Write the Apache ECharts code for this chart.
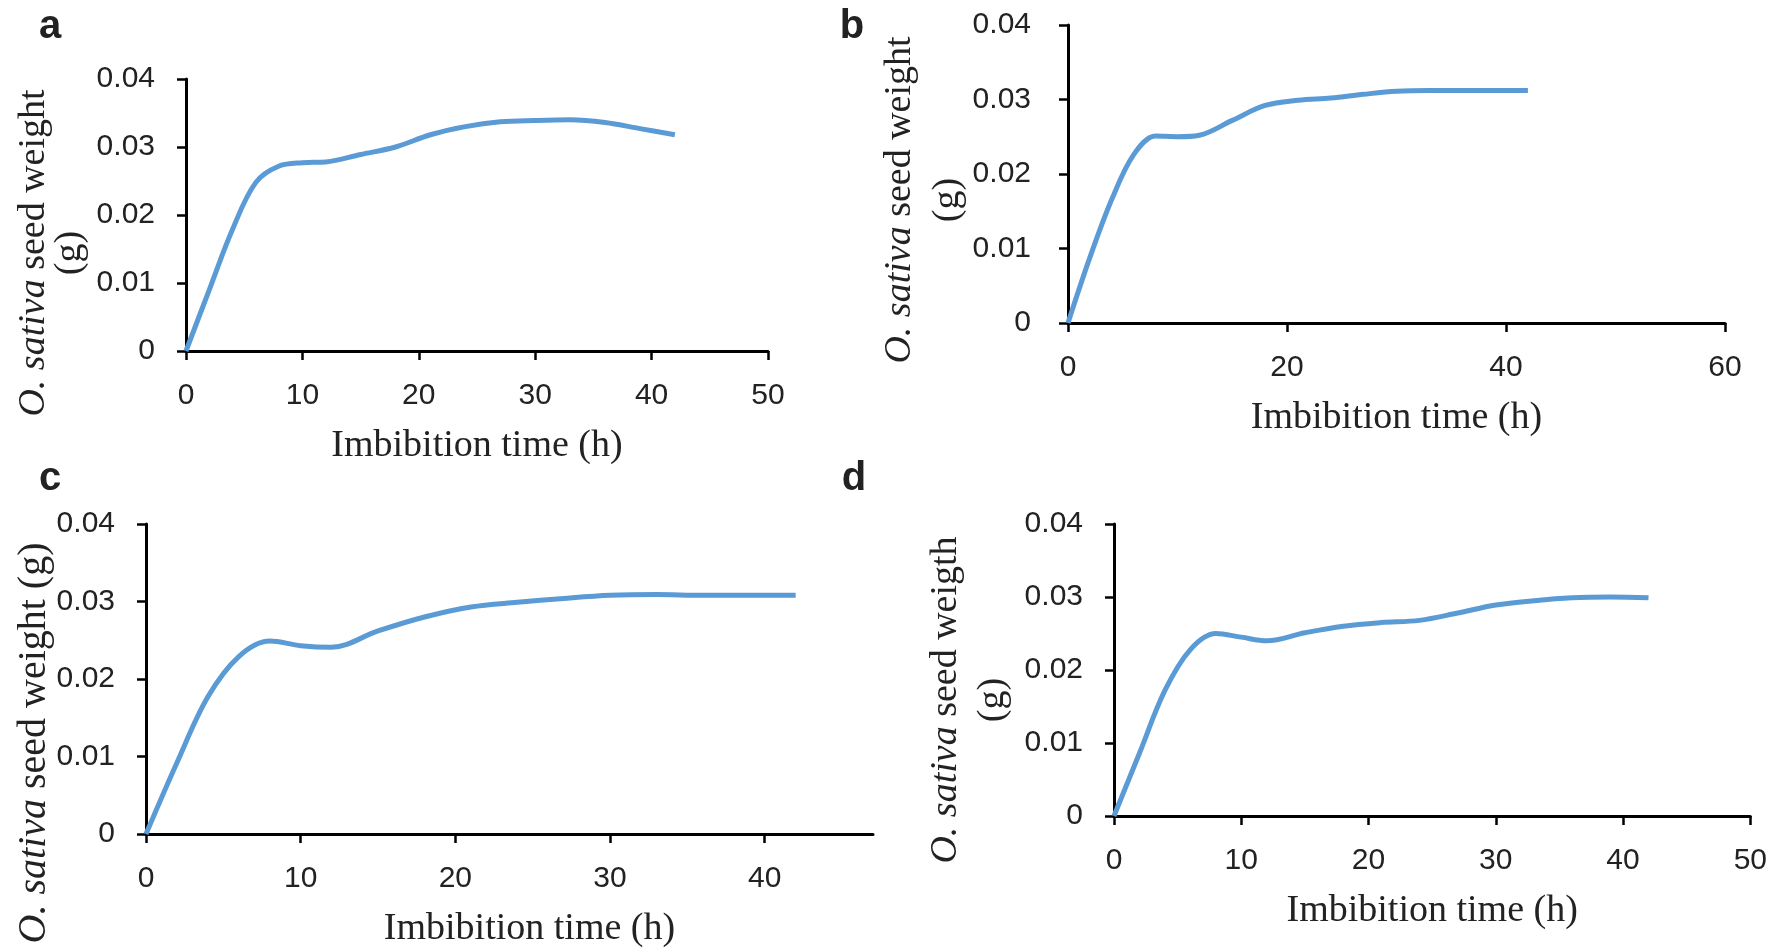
<!DOCTYPE html>
<html>
<head>
<meta charset="utf-8">
<script src="https://cdn.jsdelivr.net/npm/echarts@6/dist/echarts.min.js"></script>
<style>
html,body{margin:0;padding:0;background:#fff;}
#chart{width:1770px;height:952px;}
</style>
</head>
<body>
<div id="chart"></div>
<script>
// Imbibition time (h) sample points
var times = [0, 2, 4, 6, 8, 10, 12, 15, 18, 21, 24, 27, 30, 33, 36, 39, 42];
// Seed weight (g), panels a-d
var weightA = [0, 0.0090, 0.0179, 0.0248, 0.0272, 0.0277, 0.0278, 0.0289, 0.0300, 0.0318, 0.0330, 0.0337, 0.0339, 0.0340, 0.0336, 0.0327, 0.0318];
var weightB = [0, 0.0088, 0.0166, 0.0226, 0.0251, 0.0250, 0.0252, 0.0272, 0.0292, 0.0299, 0.0302, 0.0307, 0.0311, 0.0312, 0.0312, 0.0312, 0.0312];
var weightC = [0, 0.0092, 0.0177, 0.0229, 0.0249, 0.0243, 0.0241, 0.0262, 0.0280, 0.0293, 0.0299, 0.0304, 0.0308, 0.0309, 0.0308, 0.0308, 0.0308];
var weightD = [0, 0.0086, 0.0172, 0.0228, 0.0250, 0.0245, 0.0240, 0.0251, 0.0260, 0.0265, 0.0268, 0.0278, 0.0289, 0.0295, 0.0299, 0.0300, 0.0299];
// axis settings
var yTicks = [0, 0.01, 0.02, 0.03, 0.04];
var xMaxes = [50, 60, 47, 50];
var xIntervals = [10, 20, 10, 10];
var xTickValues = [[0,10,20,30,40,50],[0,20,40,60],[0,10,20,30,40],[0,10,20,30,40,50]];
var panelLetters = ['a', 'b', 'c', 'd'];
var xTitle = 'Imbibition time (h)';

function pairs(xs, ys){ return xs.map(function(x,i){ return [x, ys[i]]; }); }
var allWeights = [weightA, weightB, weightC, weightD];

var grids = [
  {left:186, top:79, width:582, height:272},
  {left:1068, top:25, width:657, height:298},
  {left:146, top:524, width:727, height:310},
  {left:1114, top:524, width:637, height:292}
];

var tickFont = {fontFamily:'"Liberation Sans", Arial, sans-serif', fontSize:30, color:'#222'};
var serif = '"Liberation Serif", "Times New Roman", serif';

var xAxes = grids.map(function(g,i){
  return {
    type:'value', gridIndex:i, min:0, max:xMaxes[i], interval:xIntervals[i],
    axisLine:{show:true, lineStyle:{color:'#000', width:3}},
    axisTick:{show:true, inside:false, length:9, lineStyle:{color:'#000', width:2.5}, customValues:xTickValues[i]},
    axisLabel:Object.assign({margin:30, customValues:xTickValues[i]}, tickFont),
    splitLine:{show:false},
    name:xTitle, nameLocation:'middle', nameGap:76,
    nameTextStyle:{fontFamily:serif, fontSize:38, color:'#222', padding: i===2 ? [0,0,0,40] : 0}
  };
});
var yAxes = grids.map(function(g,i){
  return {
    type:'value', gridIndex:i, min:0, max:0.04, interval:0.01,
    axisLine:{show:true, lineStyle:{color:'#000', width:3}},
    axisTick:{show:true, inside:false, length:9, lineStyle:{color:'#000', width:2.5}},
    axisLabel:Object.assign({margin: i===1 ? 37 : 31, formatter:function(v){ return v===0 ? '0' : v.toFixed(2); }}, tickFont),
    splitLine:{show:false}
  };
});
var series = allWeights.map(function(w,i){
  return {
    type:'line', xAxisIndex:i, yAxisIndex:i, data:pairs(times,w),
    smooth:0.35, showSymbol:false, symbol:'none',
    lineStyle:{color:'#5B9BD5', width:5}
  };
});

function yTitle(x, y, text, size){
  return {type:'text', x:x, y:y, rotation:Math.PI/2, z:10,
    style:{text:text, fontSize:size||38, fontFamily:serif, fill:'#222', align:'center', verticalAlign:'middle',
      rich:{i:{fontStyle:'italic', fontSize:size||38, fontFamily:serif, fill:'#222'}}}};
}
function letter(x, y, t){
  return {type:'text', x:x, y:y, z:10,
    style:{text:t, fontSize:40, fontWeight:'bold', fontFamily:'"Liberation Sans", Arial, sans-serif', fill:'#222', align:'center', verticalAlign:'middle'}};
}

var graphics = [
  letter(50, 27, panelLetters[0]),
  letter(852, 27, panelLetters[1]),
  letter(50, 479, panelLetters[2]),
  letter(854, 479, panelLetters[3]),
  yTitle(34, 253, '{i|O. sativa} seed weight'),
  yTitle(70, 253, '(g)'),
  yTitle(900, 200, '{i|O. sativa} seed weight'),
  yTitle(948, 200, '(g)'),
  yTitle(34, 743, '{i|O. sativa} seed weight (g)', 40),
  yTitle(946, 700, '{i|O. sativa} seed weigth'),
  yTitle(993, 700, '(g)')
];

var chart = echarts.init(document.getElementById('chart'), null, {renderer:'canvas'});
chart.setOption({
  animation:false,
  backgroundColor:'#fff',
  grid:grids,
  xAxis:xAxes,
  yAxis:yAxes,
  series:series,
  graphic:graphics
});
</script>
</body>
</html>
